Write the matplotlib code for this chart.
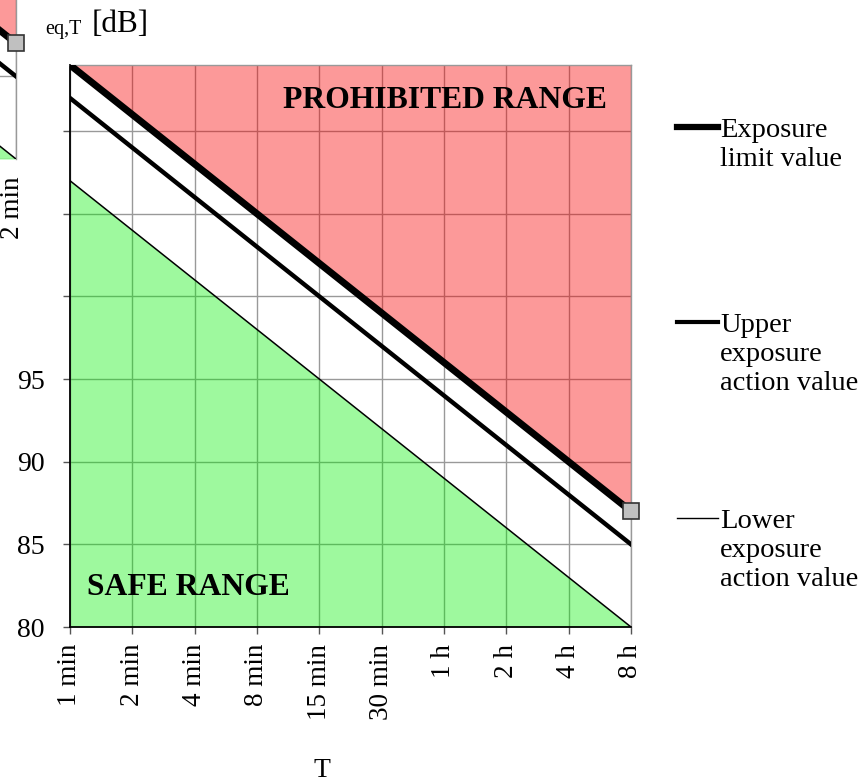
import numpy as np
import matplotlib
matplotlib.use("Agg")
import matplotlib.pyplot as plt
from matplotlib.lines import Line2D

######################################################################
# data (one step on the x axis = one doubling of T)

durations = ["1 min", "2 min", "4 min", "8 min", "15 min", "30 min",
             "1 h", "2 h", "4 h", "8 h"]

# levels in dB at each duration
limit_db = [114, 111, 108, 105, 102, 99, 96, 93, 90, 87]
upper_db = [112, 109, 106, 103, 100, 97, 94, 91, 88, 85]
lower_db = [107, 104, 101, 98, 95, 92, 89, 86, 83, 80]

y_ticks = [80, 85, 90, 95, 100, 105, 110]
y_ticklabels = ["80", "85", "90", "95", "", "", ""]

legend_lines = [["Exposure", "limit value"],
                ["Upper", "exposure", "action value"],
                ["Lower", "exposure", "action value"]]

######################################################################

W, H = 862, 784
plt.rcParams["font.family"] = ["Liberation Serif", "DejaVu Serif"]
fig = plt.figure(figsize=(W / 100, H / 100), dpi=100)


def px(x, y):
    # pixel position (from top-left) -> figure fraction
    return x / W, 1 - y / H


def draw(ax):
    x = np.arange(len(durations))
    ymin, ymax = 80, limit_db[0]

    ax.fill_between(x, limit_db, ymax, color="#f80000", alpha=0.4, lw=0, zorder=2)
    ax.fill_between(x, ymin, lower_db, color="#00f000", alpha=0.38, lw=0, zorder=2)

    ax.plot(x, limit_db, color="black", lw=5.0, zorder=4)
    ax.plot(x, upper_db, color="black", lw=3.2, zorder=4)
    ax.plot(x, lower_db, color="black", lw=1.1, zorder=4)
    ax.plot(x[-1], limit_db[-1], "s", ms=11, mfc="#c0c0c0", mec="#333333",
            mew=1.2, zorder=5, clip_on=False)

    ax.set_xlim(0, len(durations) - 1)
    ax.set_ylim(ymin, ymax)
    ax.set_xticks(x)
    ax.set_yticks(y_ticks)
    ax.set_axisbelow(True)
    ax.grid(True, color="#999999", lw=1.0)
    for side in ["top", "right"]:
        ax.spines[side].set_color("#999999")
        ax.spines[side].set_linewidth(1.0)
    for side in ["left", "bottom"]:
        ax.spines[side].set_color("black")
        ax.spines[side].set_linewidth(1.3)


# main chart
ax = fig.add_axes([70 / W, (H - 627) / H, 561 / W, 562 / H])
draw(ax)
ax.set_xticklabels(durations, rotation=90, fontsize=19.5)
ax.set_yticklabels(y_ticklabels, fontsize=20)
ax.tick_params(axis="both", direction="out", length=5, width=1, color="#555555")
ax.tick_params(axis="y", pad=13)
ax.tick_params(axis="x", pad=7)

fig.text(*px(607, 108), "PROHIBITED RANGE", fontsize=22.8, fontweight="bold",
         ha="right", va="baseline")
fig.text(*px(87, 595), "SAFE RANGE", fontsize=22.8, fontweight="bold",
         ha="left", va="baseline")
fig.text(*px(322, 777), "T", fontsize=20, ha="center", va="baseline")

# stray fragment of the same chart in the top-left corner
ax2 = fig.add_axes([(16 - 561) / W, (H - 159) / H, 561 / W, 562 / H])
draw(ax2)
ax2.set_xticklabels([])
ax2.set_yticklabels([])
ax2.tick_params(length=0)
ax2.spines["bottom"].set_visible(False)
fig.text(*px(13, 208), "2 min", fontsize=19.5, rotation=90, ha="center", va="center")

# partly hidden y label
fig.text(*px(45, 34), "eq,T", fontsize=14.5, ha="left", va="baseline")
fig.text(*px(92, 32), "[dB]", fontsize=22.5, ha="left", va="baseline")

# legend drawn by hand
legend_y = [127, 322, 518]
legend_lw = [4.5, 3.0, 1.0]
for lines, y0, lw in zip(legend_lines, legend_y, legend_lw):
    (x0, yf), (x1, _) = px(677, y0), px(718, y0)
    fig.add_artist(Line2D([x0, x1], [yf, yf], color="black", lw=lw))
    for k, s in enumerate(lines):
        fig.text(*px(720, y0 + 10 + 29 * k), s, fontsize=20.5, ha="left", va="baseline")

fig.savefig("out.png", dpi=100)
